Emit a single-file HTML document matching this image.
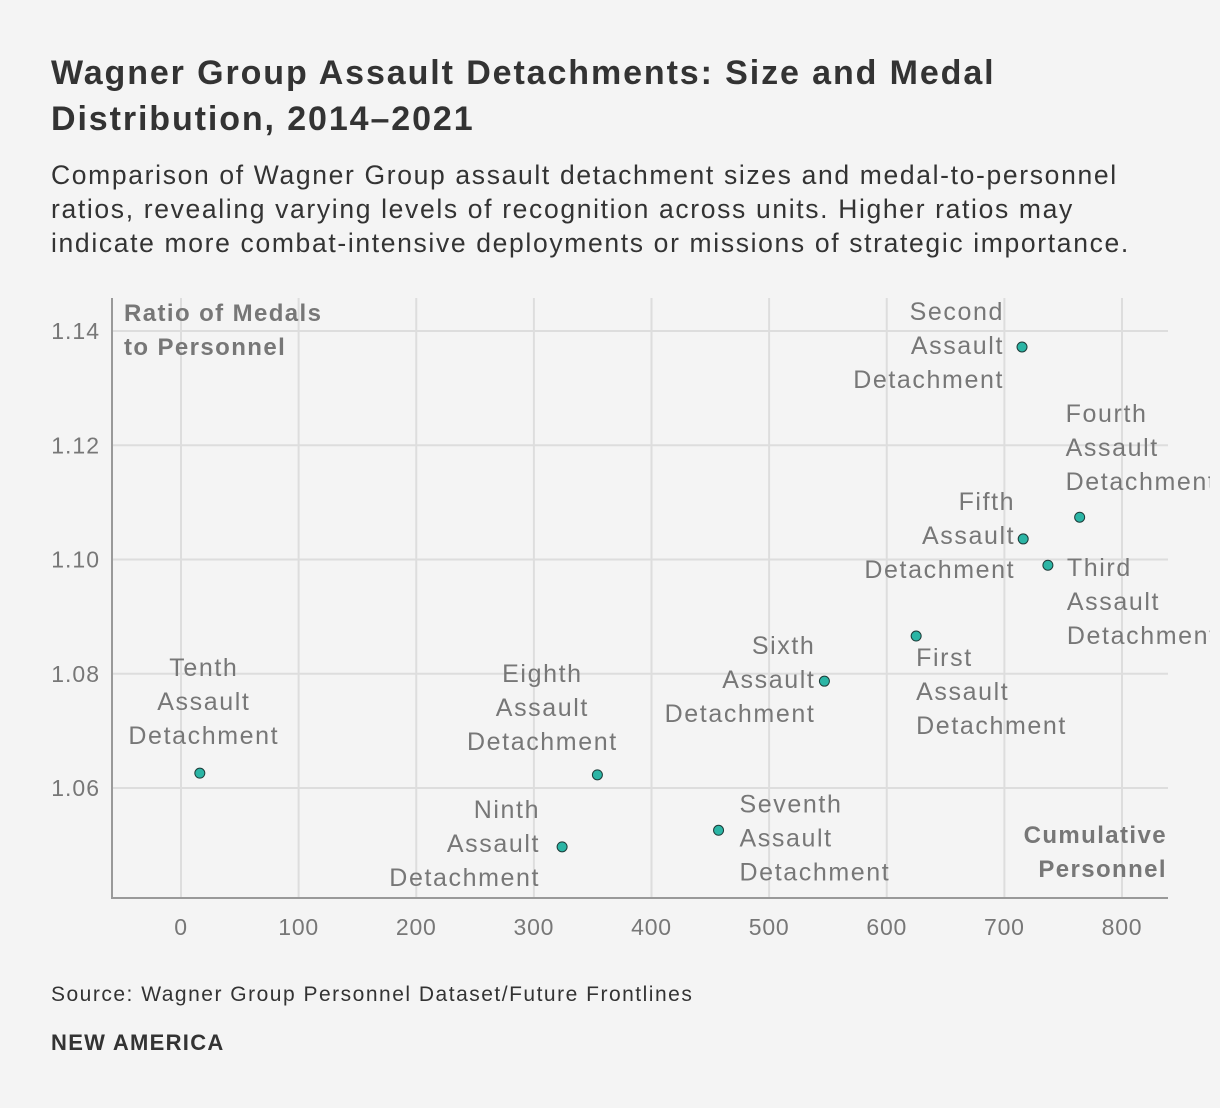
<!DOCTYPE html>
<html><head><meta charset="utf-8"><style>
body{margin:0;background:#f4f4f4;width:1220px;height:1108px;overflow:hidden;font-family:"Liberation Sans",sans-serif;}
.t{position:absolute;left:51px;top:50px;font-size:34px;font-weight:bold;color:#333;line-height:46px;width:1050px;letter-spacing:1.9px;}
.s{position:absolute;left:51px;top:158px;font-size:26.5px;color:#333;line-height:34px;width:1100px;letter-spacing:1.65px;}
.src{position:absolute;left:51px;top:983px;font-size:21px;color:#333;letter-spacing:1.5px;}
.na{position:absolute;left:51px;top:1030px;font-size:22px;font-weight:bold;color:#333;letter-spacing:1.3px;}
svg{position:absolute;left:0;top:0;}
</style></head><body>
<div class="t">Wagner Group Assault Detachments: Size and Medal Distribution, 2014–2021</div>
<div class="s">Comparison of Wagner Group assault detachment sizes and medal-to-personnel ratios, revealing varying levels of recognition across units. Higher ratios may indicate more combat-intensive deployments or missions of strategic importance.</div>
<svg id="chart" width="1210" height="960"></svg>
<div class="src">Source: Wagner Group Personnel Dataset/Future Frontlines</div>
<div class="na">NEW AMERICA</div>
<script>
const names=["Tenth","Ninth","Eighth","Seventh","Sixth","First","Fifth","Third","Fourth","Second"];
const personnel=[16,324,354,457,547,625,716,737,764,715];
const ratios=[1.0626,1.0497,1.0623,1.0526,1.0787,1.0866,1.1036,1.0990,1.1074,1.1372];
const xTicks=[0,100,200,300,400,500,600,700,800];
const yTicks=[1.06,1.08,1.10,1.12,1.14];
const lp=[["middle",4,-106],["end",-22,-38],["middle",-55,-102],["start",21,-27],["end",-9,-36],["start",0,21],["end",-8,-38],["start",19,2],["start",-14,-104],["end",-18,-36]];
const NS="http://www.w3.org/2000/svg";
const svg=document.getElementById('chart');
const X=v=>181+(v)*1.17625, Y=v=>788-(v-1.06)*5712.5;
const L=112,R=1168,T=298,B=898;
function mk(t,a,p){const e=document.createElementNS(NS,t);for(const k in a)e.setAttribute(k,a[k]);(p||svg).appendChild(e);return e;}
xTicks.forEach(v=>{const g=mk('line',{x1:X(v),x2:X(v),y1:T,y2:B,stroke:'#ddd','stroke-width':2});

const t=mk('text',{x:X(v),y:B+37,'text-anchor':'middle','font-size':23,fill:'#777','letter-spacing':0.8});t.textContent=v;
});
yTicks.forEach(v=>{const g=mk('line',{x1:L,x2:R,y1:Y(v),y2:Y(v),stroke:'#ddd','stroke-width':2});

const t=mk('text',{x:100,y:Y(v)+8,'text-anchor':'end','font-size':23,fill:'#777','letter-spacing':1});t.textContent=v.toFixed(2);
});
const ax=mk('path',{d:`M${L} ${T}V${B}H${R}`,fill:'none',stroke:'#999','stroke-width':2});

function multi(lines,x,y,anchor,opts,name){const t=mk('text',Object.assign({x:x,'text-anchor':anchor,'font-size':25,fill:'#777','letter-spacing':1.6},opts));

lines.forEach((s,i)=>{const ts=mk('tspan',{x:x,y:y+i*34+9},t);ts.textContent=s;});}
multi(["Ratio of Medals","to Personnel"],124,312,'start',{'font-weight':'bold','font-size':24,'letter-spacing':1.4},'y-axis-title');
multi(["Cumulative","Personnel"],1167,834,'end',{'font-weight':'bold','font-size':24,'letter-spacing':1.4},'x-axis-title');
names.forEach((n,i)=>{const cx=X(personnel[i]),cy=Y(ratios[i]);
const c=mk('circle',{cx:cx,cy:cy,r:5,fill:'#2bb5a5',stroke:'#1d3b38','stroke-width':1});

const p=lp[i];multi([n,"Assault","Detachment"],cx+p[1],cy+p[2],p[0],{},'label-'+n.toLowerCase());});
</script>
</body></html>
